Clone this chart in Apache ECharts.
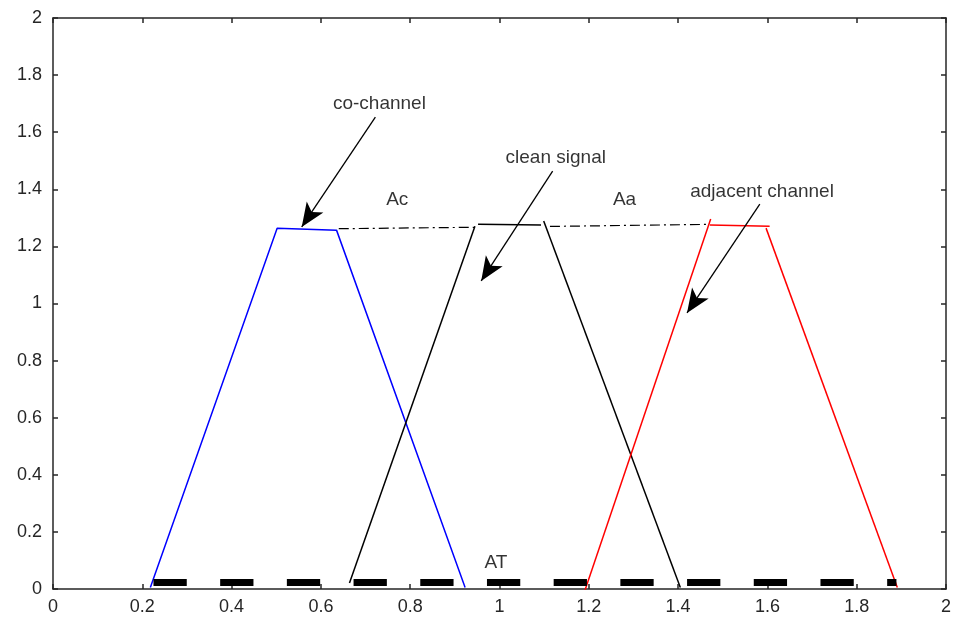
<!DOCTYPE html>
<html>
<head>
<meta charset="utf-8">
<script src="https://cdn.jsdelivr.net/npm/echarts@6/dist/echarts.min.js"></script>
<style>
html,body{margin:0;padding:0;background:#fff;}
#main{width:954px;height:622px;}
</style>
</head>
<body>
<div id="main"></div>
<script>
// trapezoid edges, [x, y] pairs
var blueLine = [[0.218, 0.005], [0.502, 1.264], [0.635, 1.257], [0.923, 0.005]];
var blackLeft = [[0.664, 0.021], [0.945, 1.271]];
var blackTop = [[0.952, 1.278], [1.093, 1.275]];
var blackRight = [[1.099, 1.289], [1.405, 0.005]];
var redLeft = [[1.187, -0.025], [1.473, 1.296]];
var redTop = [[1.471, 1.275], [1.605, 1.271]];
var redRight = [[1.597, 1.264], [1.891, 0.005]];
var dashDot1 = [[0.640, 1.262], [0.948, 1.267]];
var dashDot2 = [[1.113, 1.270], [1.465, 1.277]];
var baseDash = [[0.225, 0.023], [1.889, 0.023]];

// annotations
var labelNames = ['co-channel', 'clean signal', 'adjacent channel', 'Ac', 'Aa', 'AT'];
var labelPos = [[0.731, 1.699], [1.126, 1.510], [1.588, 1.391], [0.771, 1.363], [1.280, 1.363], [0.992, 0.091]];
var arrowFrom = [[0.722, 1.653], [1.119, 1.464], [1.583, 1.348]];
var arrowTo = [[0.557, 1.268], [0.959, 1.079], [1.420, 0.967]];

var axisColor = '#262626';
var font = 'Liberation Sans, Arial, Helvetica, sans-serif';

function seg(data, color, width, type) {
    return {
        type: 'line',
        data: data,
        symbol: 'none',
        silent: true,
        animation: false,
        lineStyle: {color: color, width: width, type: type || 'solid'}
    };
}

var chart = echarts.init(document.getElementById('main'));

var labelData = labelNames.map(function (n, i) {
    return {value: labelPos[i], name: n};
});

var arrowData = arrowFrom.map(function (p, i) {
    return [{coord: p}, {coord: arrowTo[i]}];
});

var series = [
    seg(blueLine, '#0000ff', 1.5),
    seg(blackLeft, '#000', 1.5),
    seg(blackTop, '#000', 1.5),
    seg(blackRight, '#000', 1.5),
    seg(redLeft, '#ff0000', 1.5),
    seg(redTop, '#ff0000', 1.5),
    seg(redRight, '#ff0000', 1.5),
    seg(dashDot1, '#000', 1.2, [10, 4, 2, 4]),
    seg(dashDot2, '#000', 1.2, [10, 4, 2, 4]),
    seg(baseDash, '#000', 7, [33.3, 33.4]),
    {
        type: 'scatter',
        data: labelData,
        symbolSize: 0,
        silent: true,
        animation: false,
        z: 5,
        label: {
            show: true,
            position: 'inside',
            formatter: '{b}',
            color: '#000',
            fontSize: 19,
            fontFamily: font
        },
        markLine: {
            silent: true,
            animation: false,
            symbol: ['none', 'arrow'],
            symbolSize: [15, 24],
            label: {show: false},
            lineStyle: {color: '#000', width: 1.3, type: 'solid'},
            data: arrowData
        }
    }
];

var tickStyle = {inside: true, length: 5, lineStyle: {color: axisColor, width: 1.5}};
var lineStyleAxis = {show: true, onZero: false, lineStyle: {color: axisColor, width: 1.5}};

var option = {
    backgroundColor: '#fff',
    grid: {left: 53, right: 2, top: 18, bottom: 33},
    xAxis: [{
        type: 'value', min: 0, max: 2, interval: 0.2,
        axisLine: lineStyleAxis,
        axisTick: tickStyle,
        axisLabel: {color: axisColor, fontSize: 18, fontFamily: font, margin: 9},
        splitLine: {show: false}
    }, {
        type: 'value', min: 0, max: 2, interval: 0.2, position: 'top',
        axisLine: lineStyleAxis,
        axisTick: tickStyle,
        axisLabel: {show: false},
        splitLine: {show: false}
    }],
    yAxis: [{
        type: 'value', min: 0, max: 2, interval: 0.2,
        axisLine: lineStyleAxis,
        axisTick: {show: true, inside: true, length: 5, lineStyle: {color: axisColor, width: 1.5}},
        axisLabel: {color: axisColor, fontSize: 18, fontFamily: font, margin: 11},
        splitLine: {show: false}
    }, {
        type: 'value', min: 0, max: 2, interval: 0.2, position: 'right',
        axisLine: lineStyleAxis,
        axisTick: {show: true, inside: true, length: 5, lineStyle: {color: axisColor, width: 1.5}},
        axisLabel: {show: false},
        splitLine: {show: false}
    }],
    series: series
};

if (option && typeof option === 'object') {
    chart.setOption(option);
}
</script>
</body>
</html>
